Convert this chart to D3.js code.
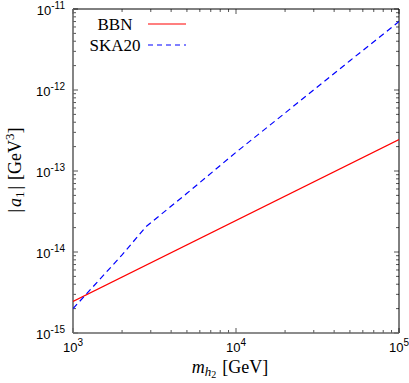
<!DOCTYPE html>
<html>
<head>
<meta charset="utf-8">
<script src="https://cdn.jsdelivr.net/npm/d3@7"></script>
<style>
html,body{margin:0;padding:0;background:#fff;}
svg{display:block;}
</style>
</head>
<body>
<svg id="chart" width="409" height="383"></svg>
<script>
// Data
const seriesNames = ["BBN", "SKA20"];
const bbnMass = [1000, 100000];
const bbnA1 = [2.45e-15, 2.45e-13];
const skaMass = [1000, 2000, 2800, 5000, 10000, 20000, 50000, 100000];
const skaA1 = [2.0e-15, 9.2e-15, 2.05e-14, 5.3e-14, 1.7e-13, 5.2e-13, 2.3e-12, 7.0e-12];
const xTickExp = [3, 4, 5];
const yTickExp = [-15, -14, -13, -12, -11];

const W = 409, H = 383;
const m = {left: 73, right: 10, top: 9, bottom: 50};
const svg = d3.select("#chart");
const x = d3.scaleLog().domain([1e3, 1e5]).range([m.left, W - m.right]);
const y = d3.scaleLog().domain([1e-15, 1e-11]).range([H - m.bottom, m.top]);
const x0 = x.range()[0], x1 = x.range()[1], y0 = y.range()[0], y1 = y.range()[1];

// ticks (inward, mirrored)
const g = svg.append("g");
const majLen = 5, minLen = 3;
function minorTicks(lo, hi) {
  const out = [];
  for (let e = lo; e < hi; e++) for (let k = 2; k <= 9; k++) out.push(k * Math.pow(10, e));
  return out;
}
const xMinor = minorTicks(3, 5), yMinor = minorTicks(-15, -11);
const tickColor = "#555";
xTickExp.forEach(e => {
  const px = x(Math.pow(10, e));
  g.append("line").attr("x1", px).attr("x2", px).attr("y1", y0).attr("y2", y0 - majLen).attr("stroke", tickColor);
  g.append("line").attr("x1", px).attr("x2", px).attr("y1", y1).attr("y2", y1 + majLen).attr("stroke", tickColor);
});
xMinor.forEach(v => {
  const px = x(v);
  g.append("line").attr("x1", px).attr("x2", px).attr("y1", y0).attr("y2", y0 - minLen).attr("stroke", tickColor);
  g.append("line").attr("x1", px).attr("x2", px).attr("y1", y1).attr("y2", y1 + minLen).attr("stroke", tickColor);
});
yTickExp.forEach(e => {
  const py = y(Math.pow(10, e));
  g.append("line").attr("x1", x0).attr("x2", x0 + majLen).attr("y1", py).attr("y2", py).attr("stroke", tickColor);
  g.append("line").attr("x1", x1).attr("x2", x1 - majLen).attr("y1", py).attr("y2", py).attr("stroke", tickColor);
});
yMinor.forEach(v => {
  const py = y(v);
  g.append("line").attr("x1", x0).attr("x2", x0 + minLen).attr("y1", py).attr("y2", py).attr("stroke", tickColor);
  g.append("line").attr("x1", x1).attr("x2", x1 - minLen).attr("y1", py).attr("y2", py).attr("stroke", tickColor);
});

// frame
svg.append("line").attr("x1", x0).attr("x2", x1).attr("y1", y1).attr("y2", y1).attr("stroke", "#000");
svg.append("line").attr("x1", x1).attr("x2", x1).attr("y1", y1).attr("y2", y0).attr("stroke", "#000");
svg.append("line").attr("x1", x0).attr("x2", x1).attr("y1", y0).attr("y2", y0).attr("stroke", "#666").attr("stroke-width", 1.6);
svg.append("line").attr("x1", x0).attr("x2", x0).attr("y1", y1).attr("y2", y0).attr("stroke", "#666").attr("stroke-width", 1.6);

// tick labels
const sans = "'Liberation Sans', Arial, sans-serif";
xTickExp.forEach(e => {
  const t = svg.append("text").attr("x", x(Math.pow(10, e))).attr("y", 352)
    .attr("text-anchor", "middle").attr("font-family", sans).attr("font-size", 13).attr("fill", "#000");
  t.append("tspan").text("10");
  t.append("tspan").attr("dy", -6).attr("font-size", 10).text(e);
});
yTickExp.forEach(e => {
  const t = svg.append("text").attr("x", 65).attr("y", y(Math.pow(10, e)) + 6)
    .attr("text-anchor", "end").attr("font-family", sans).attr("font-size", 13).attr("fill", "#000");
  t.append("tspan").text("10");
  t.append("tspan").attr("dy", -6).attr("font-size", 10).text(e);
});

// data lines
const line = d3.line().x(d => x(d[0])).y(d => y(d[1]));
svg.append("clipPath").attr("id", "clip").append("rect")
  .attr("x", x0).attr("y", y1).attr("width", x1 - x0).attr("height", y0 - y1);
svg.append("path").datum(d3.zip(bbnMass, bbnA1)).attr("d", line)
  .attr("fill", "none").attr("stroke", "#ff0000").attr("stroke-width", 1.2).attr("clip-path", "url(#clip)");
svg.append("path").datum(d3.zip(skaMass, skaA1)).attr("d", line)
  .attr("fill", "none").attr("stroke", "#0000ff").attr("stroke-width", 1.2)
  .attr("stroke-dasharray", "6,4").attr("clip-path", "url(#clip)");

// legend
const serif = "'Liberation Serif', 'Times New Roman', serif";
const legY = [24, 45];
const legColors = ["#ff0000", "#0000ff"];
const legDash = [null, "5,4"];
seriesNames.forEach((n, i) => {
  svg.append("text").attr("x", 115).attr("y", legY[i] + 6).attr("text-anchor", "middle")
    .attr("font-family", serif).attr("font-size", 17).attr("fill", "#000").text(n);
  const l = svg.append("line").attr("x1", 148).attr("x2", 186).attr("y1", legY[i]).attr("y2", legY[i])
    .attr("stroke", legColors[i]).attr("stroke-width", 1.2);
  if (legDash[i]) l.attr("stroke-dasharray", legDash[i]);
});

// axis titles
const xt = svg.append("text").attr("x", 230).attr("y", 373).attr("text-anchor", "middle")
  .attr("font-family", serif).attr("font-size", 18).attr("fill", "#000");
xt.append("tspan").attr("font-style", "italic").text("m");
xt.append("tspan").attr("font-style", "italic").attr("font-size", 13).attr("dy", 3).text("h");
xt.append("tspan").attr("font-size", 10).attr("dy", 2).text("2");
xt.append("tspan").attr("dy", -5).attr("dx", 6).text("[GeV]");

const yt = svg.append("text").attr("transform", "translate(21,170) rotate(-90)").attr("text-anchor", "middle")
  .attr("font-family", serif).attr("font-size", 18).attr("fill", "#000");
yt.append("tspan").text("|");
yt.append("tspan").attr("font-style", "italic").attr("dx", 2).text("a");
yt.append("tspan").attr("font-size", 13).attr("dy", 3).text("1");
yt.append("tspan").attr("dy", -3).attr("dx", 2).text("|");
yt.append("tspan").attr("dx", 6).text("[GeV");
yt.append("tspan").attr("font-size", 13).attr("dy", -7).text("3");
yt.append("tspan").attr("dy", 7).text("]");
</script>
</body>
</html>
